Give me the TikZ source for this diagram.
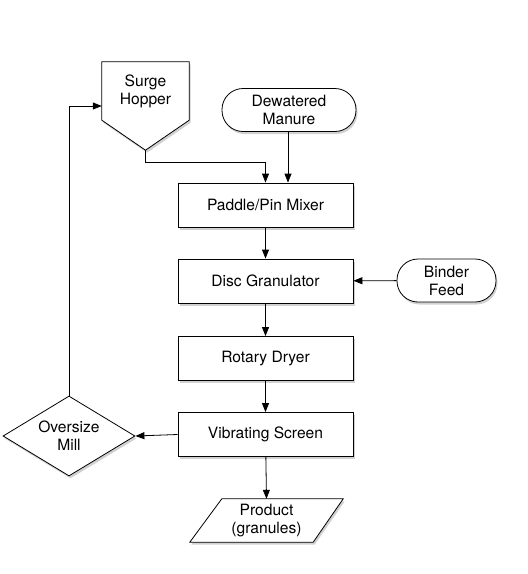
\documentclass[tikz,border=0pt]{standalone}
\usepackage{fontspec}
\setmainfont{TeX Gyre Heros}
\usepackage{tikz}
\usetikzlibrary{shapes.geometric, arrows.meta, positioning, shadows, calc}

\begin{document}
\begin{tikzpicture}[
    x=1pt, y=-1pt,
    font=\fontsize{15.6}{18}\selectfont,
    shade/.style={drop shadow={shadow xshift=1.5pt, shadow yshift=-2.5pt, opacity=0.18, fill=black}},
    box/.style={rectangle, draw, line width=0.8pt, fill=white, shade, minimum width=175pt, minimum height=44pt, align=center},
    feed/.style={rectangle, rounded corners=21pt, draw, line width=0.8pt, fill=white, shade, minimum height=43pt, align=center},
    mill/.style={diamond, aspect=1.65, draw, line width=0.8pt, fill=white, shade, inner sep=0pt, minimum width=132pt, minimum height=80pt, align=center},
    outline/.style={draw, line width=0.8pt, fill=white, shade},
    label/.style={inner sep=0pt, align=center},
    arrow/.style={-{Triangle[length=9pt, width=7pt]}, line width=0.8pt}
]
\useasboundingbox (0,0) rectangle (528,574);

\node[box] (mixer) at (265.5,205) {Paddle/Pin Mixer};
\node[box] (granulator) at (265.5,281) {Disc Granulator};
\node[box] (dryer) at (265.5,358.5) {Rotary Dryer};
\node[box] (screen) at (265.5,434.5) {Vibrating Screen};

\node[feed, minimum width=134pt] (manure) at (289,110) {Dewatered\\Manure};
\node[feed, minimum width=99pt] (binder) at (446.5,280.5) {Binder\\Feed};
\node[mill] (oversize) at (69,436) {Oversize\\Mill};

% surge hopper: box with a pointed bottom
\node[label, minimum width=87pt, minimum height=58pt] (hopper) at (145.5,91) {Surge\\Hopper};
\coordinate (hopper tip) at ($(hopper.south)+(0,30)$);
\path[outline] (hopper.north west) -- (hopper.north east) -- (hopper.south east)
    -- (hopper tip) -- (hopper.south west) -- cycle;
\node[label] at (hopper) {Surge\\Hopper};

% product: parallelogram
\node[label, minimum width=153pt, minimum height=43pt] (product) at (266.5,520.5) {Product\\(granules)};
\path[outline] ([xshift=32pt]product.north west) -- (product.north east)
    -- ([xshift=-30pt]product.south east) -- (product.south west) -- cycle;
\node[label] at (product) {Product\\(granules)};

\draw[arrow] (hopper tip) -- ++(0,12) -| (mixer.north);
\draw[arrow] (manure.south -| 288,0) -- (mixer.north -| 288,0);
\draw[arrow] (mixer) -- (granulator);
\draw[arrow] (binder) -- (granulator);
\draw[arrow] (granulator) -- (dryer);
\draw[arrow] (dryer) -- (screen);
\draw[arrow] (screen) -- (product.north);
\draw[arrow] (screen.west) -- (oversize.east);
\draw[arrow] (oversize.north) |- ([yshift=-15pt]hopper.west);

\end{tikzpicture}
\end{document}
